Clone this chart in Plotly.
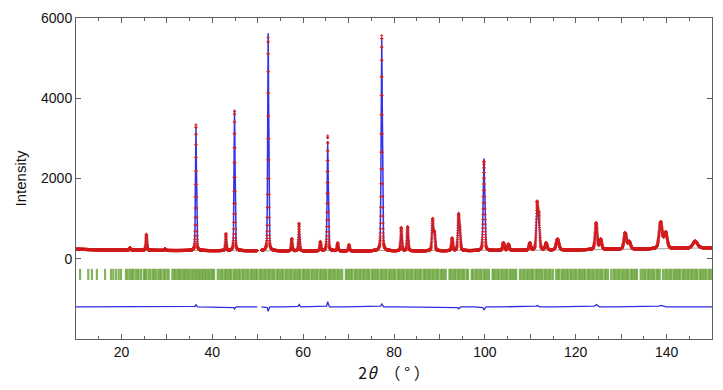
import numpy as np
import plotly.graph_objects as go

# ---- scan definition ----
scan_start, scan_end, scan_step = 10.0, 150.0, 0.02
gap_range = [49.9, 50.8]          # detector gap (no data)

# ---- background ----
bg_x = [10, 20, 30, 45, 60, 80, 100, 115, 130, 140, 150]
bg_y = [235, 215, 205, 200, 195, 195, 200, 215, 235, 250, 275]

# ---- reflections seen in the profile: position, total intensity at top, FWHM ----
peak_pos = [21.9, 25.5, 29.6, 36.4, 43.0, 44.9, 52.3, 57.5, 59.1, 63.8, 65.4, 67.6,
            70.1, 77.3, 81.6, 83.0, 88.5, 88.9, 92.8, 94.2, 94.5, 99.8, 104.1, 105.2,
            109.9, 111.5, 111.9, 113.5, 116.0, 124.5, 125.5, 130.9, 131.8, 138.7,
            139.8, 146.3]
peak_top = [280, 610, 250, 3280, 620, 3720, 5620, 500, 820, 425, 2930, 390,
            345, 5480, 775, 795, 975, 640, 510, 1090, 600, 2500, 400, 360,
            390, 1290, 1000, 390, 490, 830, 480, 645, 420, 870,
            650, 435]
peak_fwhm = [0.3, 0.3, 0.3, 0.25, 0.25, 0.25, 0.25, 0.28, 0.28, 0.3, 0.28, 0.3,
             0.3, 0.3, 0.32, 0.32, 0.35, 0.35, 0.35, 0.36, 0.36, 0.38, 0.45, 0.45,
             0.45, 0.42, 0.42, 0.5, 0.7, 0.55, 0.55, 0.65, 0.65, 0.8,
             0.8, 1.2]

# ---- residual features of the difference curve ----
resid_pos = [36.4, 44.9, 52.3, 59.1, 65.4, 77.3, 94.2, 99.8, 111.5, 124.5, 138.7]
resid_amp = [60, -50, -110, 60, 130, 80, -50, -70, 40, 60, 40]
diff_offset = -1200

# ---- Bragg reflection positions (tick marks) ----
bragg_ticks = [
    10.9, 12.7, 13.5, 14.6, 16.4, 17.7, 18.2, 18.8, 19.4, 19.9,
    21.0, 21.4, 21.9, 22.3, 22.6, 23.1, 23.5, 23.8, 24.3, 24.9, 25.2, 25.5, 26.0, 26.4,
    26.9, 27.2, 27.6, 28.1, 28.5, 28.8, 29.3, 29.6, 30.1, 30.4,
    31.2, 31.6, 31.9, 32.3, 32.7, 33.0, 33.4, 33.8, 34.1, 34.5, 34.8, 35.2, 35.6, 35.9,
    36.3, 36.6, 37.0, 37.3, 37.7, 38.0, 38.4, 38.7, 39.1, 39.4, 39.8, 40.1, 40.4,
    41.2, 41.6, 42.0, 42.3, 42.8, 43.1, 43.5, 43.9, 44.2, 44.7, 45.0, 45.4, 45.8, 46.1,
    46.6, 46.9, 47.3, 47.7, 48.0, 48.5, 48.8, 49.2, 49.6, 49.9, 50.4, 50.7, 51.1, 51.5,
    51.8, 52.3, 52.6, 53.0, 53.4, 53.7, 54.2, 54.5, 54.9, 55.3, 55.6, 56.1, 56.4, 56.8,
    57.2, 57.5, 58.0, 58.3, 58.7, 59.1, 59.4, 59.9, 60.2, 60.6, 61.0, 61.3, 61.8, 62.1,
    62.5, 62.9, 63.2, 63.7, 64.0, 64.4, 64.8, 65.1, 65.6, 65.9, 66.3, 66.7, 67.0, 67.5,
    67.8, 68.2, 68.6, 69.4, 69.7, 70.1, 70.5, 70.8, 71.3, 71.6, 72.0, 72.4, 72.7,
    73.2, 73.5, 73.9, 74.3, 74.6, 75.1, 75.4, 75.8, 76.2, 76.5, 77.0, 77.3, 77.7, 78.1,
    78.4, 78.9, 79.2, 79.6, 80.0, 80.3, 80.8, 81.1, 81.5, 81.9, 82.2, 82.7, 83.0, 83.4,
    83.8, 84.1, 84.6, 84.9, 85.3, 85.7, 86.0, 86.5, 86.8, 87.2, 87.6, 87.9, 88.4, 88.7,
    89.1, 89.5, 89.8, 90.3, 90.6, 91.0, 91.4, 92.2, 92.5, 92.9, 93.3, 93.6, 94.1,
    94.4, 94.8, 95.2, 95.5, 96.0, 96.3, 97.1, 97.4, 97.9, 98.2, 98.6, 99.0, 99.3,
    99.8, 100.1, 100.5, 100.9, 101.7, 102.0, 102.4, 102.8, 103.1, 103.6, 103.9,
    104.3, 104.7, 105.0, 105.5, 105.8, 106.2, 106.6, 106.9, 107.7, 108.1, 108.5,
    108.8, 109.3, 109.6, 110.0, 110.4, 110.7, 111.2, 111.5, 111.9, 112.3, 112.6, 113.1,
    113.4, 113.8, 114.2, 114.5, 115.0, 115.7, 116.1, 116.4, 116.9, 117.2, 117.6,
    118.0, 118.3, 118.8, 119.1, 119.5, 119.9, 120.2, 120.7, 121.0, 121.4, 121.8, 122.1,
    122.6, 122.9, 123.3, 123.7, 124.0, 124.5, 124.8, 125.2, 125.6, 125.9, 126.4, 126.7,
    127.1, 127.8, 128.3, 128.6, 129.0, 129.4, 129.7, 130.2, 130.5, 130.9, 131.3,
    131.6, 132.1, 132.4, 132.8, 133.2, 133.5, 134.3, 134.7, 135.1, 135.4, 135.9,
    136.2, 136.6, 137.0, 137.3, 137.8, 138.1, 138.5, 139.2, 139.7, 140.0, 140.4,
    140.8, 141.1, 141.6, 141.9, 142.3, 142.7, 143.0, 143.5, 143.8, 144.2, 144.6, 144.9,
    145.4, 145.7, 146.1, 146.5, 146.8, 147.3, 147.6, 148.0, 148.4, 148.7, 149.2, 149.5,
    149.9]
bragg_level = -390

x_tickvals = [10, 20, 30, 40, 50, 60, 70, 80, 90, 100, 110, 120, 130, 140, 150]
x_ticktext = ["", "20", "", "40", "", "60", "", "80", "", "100", "", "120", "", "140", ""]
y_tickvals = [0, 2000, 4000, 6000]

# ---- build profiles from the peak list ----
tt = np.arange(scan_start, scan_end + scan_step / 2, scan_step)
bg = np.interp(tt, bg_x, bg_y)
eta = 0.3
calc = bg.copy()
for p, top, w in zip(peak_pos, peak_top, peak_fwhm):
    h = top - np.interp(p, bg_x, bg_y)
    d = (tt - p) / w
    calc += h * (eta / (1 + 4 * d ** 2) + (1 - eta) * np.exp(-4 * np.log(2) * d ** 2))
resid = np.zeros_like(tt)
for p, a in zip(resid_pos, resid_amp):
    w = peak_fwhm[int(np.argmin(np.abs(np.array(peak_pos) - p)))]
    resid += a * np.exp(-4 * np.log(2) * ((tt - p) / w) ** 2)
obs = calc + resid
diff = obs - calc + diff_offset

mask = (tt > gap_range[0]) & (tt < gap_range[1])
for arr in (obs, calc, diff, bg):
    arr[mask] = np.nan

fig = go.Figure()
fig.add_trace(go.Scatter(x=tt, y=bg, mode="lines",
                         line=dict(color="rgb(160,160,160)", width=1), hoverinfo="skip"))
fig.add_trace(go.Scatter(x=tt, y=calc, mode="lines",
                         line=dict(color="rgb(50,50,235)", width=1.5)))
fig.add_trace(go.Scatter(x=tt, y=obs, mode="markers",
                         marker=dict(symbol="cross-thin", size=2.2, color="rgb(210,30,30)",
                                     line=dict(color="rgb(210,30,30)", width=0.9))))
fig.add_trace(go.Scatter(x=bragg_ticks, y=[bragg_level] * len(bragg_ticks), mode="markers",
                         marker=dict(symbol="line-ns", size=8,
                                     line=dict(color="rgba(100,160,50,0.8)", width=2.2))))
fig.add_trace(go.Scatter(x=tt, y=diff, mode="lines",
                         line=dict(color="rgb(45,45,225)", width=1.3)))

axis_col = "#606060"
fig.update_layout(
    width=723, height=390,
    margin=dict(l=76, r=10, t=13, b=51),
    plot_bgcolor="white", paper_bgcolor="white",
    showlegend=False,
    xaxis=dict(range=[10, 150], tickvals=x_tickvals, ticktext=x_ticktext,
               ticks="inside", ticklen=5, tickcolor=axis_col, tickwidth=1,
               minor=dict(dtick=5, tick0=0, ticks="inside", ticklen=3, tickcolor=axis_col),
               showline=True, linecolor=axis_col, linewidth=1, mirror="ticks",
               showgrid=False, zeroline=False,
               tickfont=dict(family="Liberation Sans, Arial", size=14, color="#111"),
               title=dict(text="2<i>θ</i>　（ ° ）", standoff=4,
                          font=dict(family="Noto Sans CJK JP", size=16, color="#111"))),
    yaxis=dict(range=[-2000, 6000], tickvals=y_tickvals,
               ticks="inside", ticklen=5, tickcolor=axis_col, tickwidth=1,
               showline=True, linecolor=axis_col, linewidth=1, mirror="ticks",
               showgrid=False, zeroline=False,
               tickfont=dict(family="Liberation Sans, Arial", size=14, color="#111"),
               title=dict(text="Intensity", standoff=10,
                          font=dict(family="Liberation Sans, Arial", size=15, color="#111"))),
)

fig.write_html("out.html")
